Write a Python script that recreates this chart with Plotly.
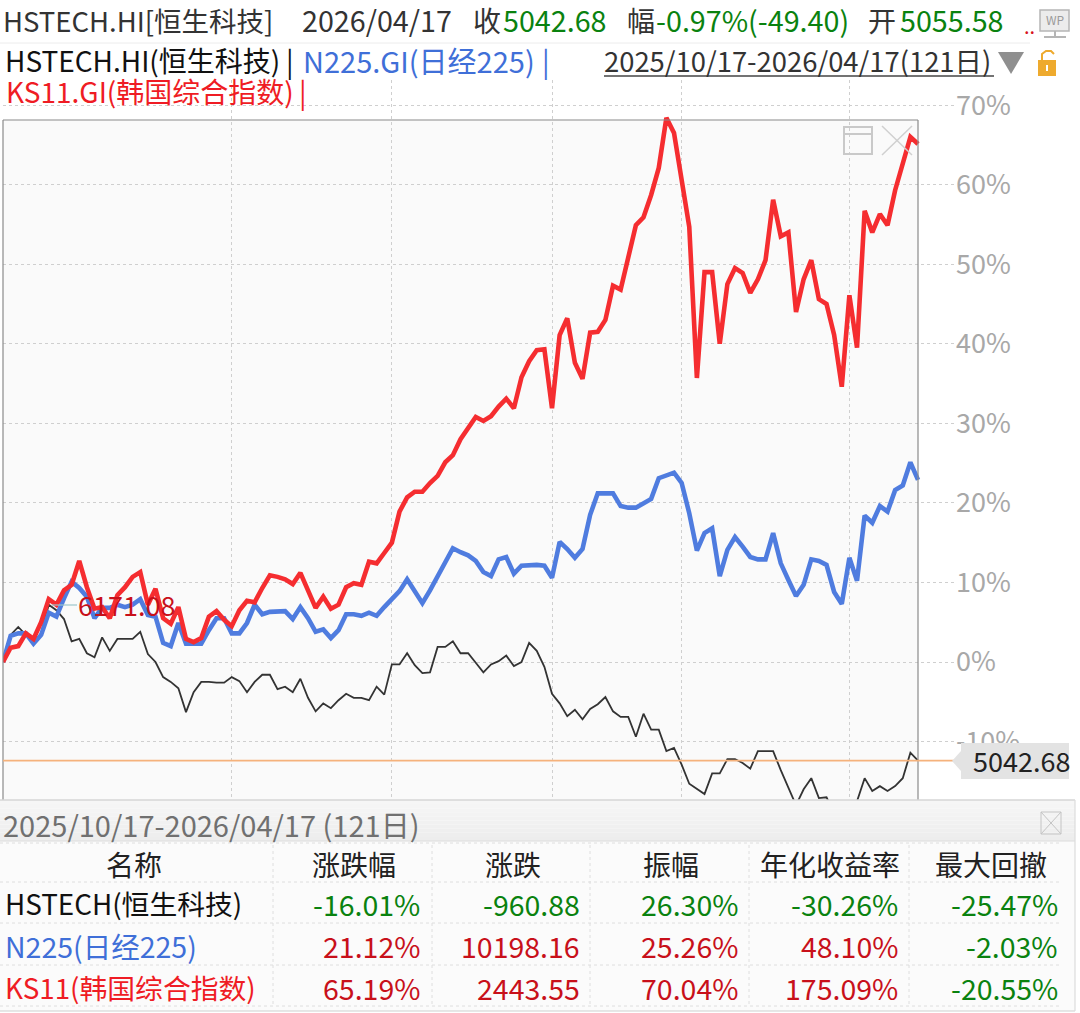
import plotly.graph_objects as go

# ---------- data (cumulative change, %) ----------
HSTECH = [0.0,3.4,4.4,3.4,2.4,3.6,7.2,6.5,5.4,2.6,2.9,1.1,0.6,3.1,1.4,2.9,2.9,2.9,3.8,1.0,
          0.0,-1.9,-2.5,-3.3,-6.3,-3.8,-2.5,-2.5,-2.6,-2.6,-1.9,-2.4,-3.8,-2.5,-1.6,-1.6,-3.4,-3.1,-3.8,-2.1,
          -4.5,-6.2,-5.2,-5.8,-4.8,-4.0,-4.5,-4.5,-4.8,-3.1,-4.1,-0.3,-0.3,1.1,-0.4,-1.4,-1.3,1.9,1.9,2.6,
          1.1,1.1,-0.1,-1.3,-0.3,0.1,0.8,-0.5,0.0,2.4,1.4,-0.6,-4.0,-5.2,-6.8,-6.0,-7.2,-5.9,-5.3,-4.4,
          -6.2,-6.9,-6.9,-9.4,-6.5,-8.5,-8.5,-11.2,-10.8,-12.9,-15.3,-16.0,-16.6,-14.0,-14.0,-12.2,-12.2,-12.7,-13.4,-11.2,
          -11.2,-11.2,-13.6,-15.7,-18.0,-16.0,-14.6,-17.1,-17.0,-19.0,-21.0,-19.5,-17.5,-14.6,-16.2,-15.6,-16.2,-15.6,-14.6,-11.4,
          -12.4]
N225 = [0.0,3.3,3.6,3.6,2.3,3.4,6.2,5.7,8.0,10.1,9.3,8.2,5.5,6.8,6.8,7.2,6.9,7.2,7.9,5.9,
        5.7,2.4,2.0,4.9,2.3,2.3,2.3,4.0,5.5,5.5,3.6,3.6,4.9,7.2,6.0,6.3,6.4,6.4,5.4,6.9,
        5.5,3.8,4.1,3.0,4.0,6.0,6.0,5.8,6.2,5.8,6.9,8.0,8.9,10.4,8.8,7.4,9.0,10.7,12.4,14.3,
        13.8,13.4,12.7,11.3,10.8,12.9,13.2,11.1,12.1,12.2,12.2,12.1,10.6,15.1,14.2,13.1,14.2,18.5,21.2,21.2,
        21.2,19.6,19.4,19.4,20.0,20.5,23.1,23.4,23.8,22.5,18.7,14.0,16.2,16.8,10.8,14.1,15.7,14.5,13.2,12.9,
        12.9,16.2,12.4,10.3,8.3,9.7,12.9,12.7,12.2,8.8,7.3,13.1,10.2,18.4,17.5,19.6,18.9,21.6,22.2,25.1,
        22.9]
KS11 = [0.0,1.8,2.0,3.6,2.9,5.0,7.9,7.2,9.0,9.7,12.7,9.4,6.7,6.9,5.5,8.4,9.4,10.7,11.3,7.2,
        9.2,5.5,4.8,6.9,2.9,2.5,3.0,5.7,6.4,5.3,4.5,6.5,7.7,7.5,9.3,10.9,10.7,10.4,9.8,11.2,
        9.0,6.8,8.2,6.7,7.2,9.4,9.9,9.7,12.6,12.4,13.7,15.0,18.9,20.7,21.4,21.4,22.5,23.4,25.1,26.0,
        28.0,29.3,30.8,30.3,30.9,32.1,33.1,31.9,35.8,37.8,39.2,39.3,31.9,41.1,43.2,37.6,35.6,41.4,41.5,43.0,
        47.3,46.8,50.9,54.9,55.9,58.7,62.1,68.4,66.5,61.0,54.7,35.7,49.0,49.0,40.0,47.5,49.5,48.9,46.4,48.1,
        50.5,58.1,53.5,54.0,44.0,48.1,50.5,45.6,45.0,41.1,34.6,46.1,39.5,56.7,54.0,56.3,54.9,59.3,62.5,66.0,
        65.1]
DAYS = list(range(len(KS11)))
Y_TICKS = [-10, 0, 10, 20, 30, 40, 50, 60, 70]
Y_LABELS = ["-10%", "0%", "10%", "20%", "30%", "40%", "50%", "60%", "70%"]
X_GRID_DAYS = [30, 51, 72, 89, 111]
LAST_CLOSE_LEVEL = -12.4
LAST_CLOSE_TEXT = "5042.68"
HIGH_DAY, HIGH_LEVEL, HIGH_TEXT = 6, 7.2, "6171.08"

TABLE_HEADER = ["名称", "涨跌幅", "涨跌", "振幅", "年化收益率", "最大回撤"]
TABLE_NAMES = ["HSTECH(恒生科技)", "N225(日经225)", "KS11(韩国综合指数)"]
TABLE_ROWS = [
    ["-16.01%", "-960.88", "26.30%", "-30.26%", "-25.47%"],
    ["21.12%", "10198.16", "25.26%", "48.10%", "-2.03%"],
    ["65.19%", "2443.55", "70.04%", "175.09%", "-20.55%"],
]

# ---------- style ----------
W, H = 1080, 1013
FONT = "Noto Sans CJK SC"
RED, BLUE, BLACK, GREEN = "#f52d30", "#4f7cdf", "#333333", "#0a820f"
DRED = "#c8101a"
TXT = "#333333"
def px(x): return x / W
def py(y): return 1 - y / H

fig = go.Figure()
fig.add_trace(go.Scatter(x=DAYS, y=HSTECH, mode="lines", line=dict(color=BLACK, width=1.8), hoverinfo="skip"))
fig.add_trace(go.Scatter(x=DAYS, y=N225, mode="lines", line=dict(color=BLUE, width=4.6), hoverinfo="skip"))
fig.add_trace(go.Scatter(x=DAYS, y=KS11, mode="lines", line=dict(color=RED, width=4.6), hoverinfo="skip"))

shapes = []
def rect(x0, y0, x1, y1, fill=None, line=None, lw=1, layer="above"):
    shapes.append(dict(type="rect", xref="paper", yref="paper", x0=px(x0), x1=px(x1), y0=py(y0), y1=py(y1),
                       fillcolor=fill or "rgba(0,0,0,0)", line=dict(color=line or "rgba(0,0,0,0)", width=lw if line else 0), layer=layer))
def seg(x0, y0, x1, y1, color, lw=1, dash=None, layer="above"):
    shapes.append(dict(type="line", xref="paper", yref="paper", x0=px(x0), x1=px(x1), y0=py(y0), y1=py(y1),
                       line=dict(color=color, width=lw, dash=dash or "solid"), layer=layer))
def poly(points, fill, layer="above"):
    d = "M " + " L ".join(f"{px(a)},{py(b)}" for a, b in points) + " Z"
    shapes.append(dict(type="path", xref="paper", yref="paper", path=d, fillcolor=fill, line=dict(width=0), layer=layer))

# plot background and frame
rect(3, 120, 918, 800, fill="#fafafa", layer="below")
seg(3, 120, 918, 120, "#8a8a8a", 1.2)
seg(3, 120, 3, 800, "#8a8a8a", 1.2)
seg(918, 120, 918, 800, "#8a8a8a", 1.2)
# header separator
seg(0, 43, 1030, 43, "#ececec", 1)
# window / close icons
rect(844, 127, 872, 154, line="#c9c9c9", lw=2)
seg(844, 134, 872, 134, "#c9c9c9", 2)
seg(882, 155, 912, 126, "#d0d0d0", 1.5)
seg(882, 126, 912, 155, "#d0d0d0", 1.5)
# last close line + price tag
shapes.append(dict(type="line", xref="x", yref="y", x0=DAYS[0], x1=124.85, y0=LAST_CLOSE_LEVEL, y1=LAST_CLOSE_LEVEL,
                   line=dict(color="#f5b27c", width=1.6), layer="above"))
rect(961, 743, 1069, 779, fill="#e3e3e3")
poly([(952, 761), (961, 751), (961, 771)], "#e3e3e3")
# high-point leader
seg(52, 605, 77, 605, "#9cc6cc", 1.2)
# header icons
poly([(998, 52), (1024, 52), (1011, 74)], "#8f8f8f")
seg(604, 76, 994, 76, "#444444", 1.5)
rect(1038, 60, 1056, 76, fill="#eeaa2e")
shapes.append(dict(type="path", xref="paper", yref="paper",
                   path=f"M {px(1042)},{py(60)} L {px(1042)},{py(54)} L {px(1046)},{py(51)} L {px(1051)},{py(51)} L {px(1054)},{py(54)}",
                   line=dict(color="#eeaa2e", width=2), layer="above"))
rect(1046, 65, 1048, 71, fill="#ffffff")
rect(1040, 10, 1069, 31, fill="#ececec", line="#b5b5b5", lw=1.5)
seg(1055, 31, 1055, 36, "#b5b5b5", 2)
seg(1044, 37, 1066, 37, "#b5b5b5", 2)

# lower panel
rect(0, 800, W, H, fill="#ffffff")
rect(0, 841, 1075, 1011, fill="#fbfbfb")
for k in range(10):
    v = 246 - k * 1
    rect(0, 800 + k * 4.1, 1075, 800 + (k + 1) * 4.1, fill=f"rgb({v},{v},{v})")
seg(0, 800, 1075, 800, "#d6d6d6", 1.5)
seg(0, 841, 1075, 841, "#dcdcdc", 1)
seg(0, 1011, 1075, 1011, "#cfcfcf", 1.2)
seg(1075, 800, 1075, 1011, "#dcdcdc", 1.2)
rect(1041, 812, 1061, 834, line="#c4c4c4", lw=1)
seg(1041, 812, 1061, 834, "#c4c4c4", 1)
seg(1061, 812, 1041, 834, "#c4c4c4", 1)
for y in [843, 882, 923, 965, 1006]:
    seg(0, y, 1060, y, "#dedede", 1, "dot")
for x in [273, 432, 590, 749, 909]:
    seg(x, 845, x, 1006, "#dedede", 1, "dot")

ann = []
def text(x, y, s, color=TXT, size=28, anchor="left"):
    ann.append(dict(xref="paper", yref="paper", x=px(x), y=py(y - 1.5), text=s, showarrow=False, xanchor=anchor,
                    yanchor="middle", align=anchor, font=dict(family=FONT, size=size, color=color), borderpad=0, borderwidth=0))

# top rows
NUM = 28.7
text(3, 21, "HSTECH.HI[恒生科技]", TXT, 27.5)
text(302, 21, "2026/04/17", TXT, NUM)
text(473, 21, "收")
text(503, 21, "5042.68", GREEN, NUM)
text(627, 21, "幅")
text(656, 21, "-0.97%(-49.40)", GREEN, NUM)
text(868, 21, "开")
text(900, 21, "5055.58", GREEN, NUM)
text(1024, 27, "..", "#d8141c", 20)
text(1055, 21.5, "WP", "#9a9a9a", 12, "center")
text(5, 62, "HSTECH.HI(恒生科技)", "#111111")
text(286, 62, "|", "#111111")
text(303, 62, "N225.GI(日经225)", "#3f6fd8", 29)
text(542, 62, "|", "#3f6fd8")
text(604, 62, "2025/10/17-2026/04/17(121日)", TXT, 27.4)
text(6, 93, "KS11.GI(韩国综合指数)", "#ef1c24")
text(299, 93, "|", "#ef1c24")

# chart labels
text(78, 606, HIGH_TEXT, DRED, 27)
text(1021, 762, LAST_CLOSE_TEXT, "#222222", 27, "center")

# panel text
text(3, 825, "2025/10/17-2026/04/17 (121日)", "#707070", 29)
HEAD_X = [134, 354, 513, 671, 830, 991]
for x, s in zip(HEAD_X, TABLE_HEADER):
    text(x, 865.5, s, "#222222", 28, "center")
ROW_Y = [904.5, 946.5, 988.5]
NAME_COLORS = ["#111111", "#3f6fd8", "#ef1c24"]
NAME_SIZES = [27.8, 28.5, 27.8]
COL_RIGHT = [420, 580, 738, 898, 1058]
for y, name, c, ns, row in zip(ROW_Y, TABLE_NAMES, NAME_COLORS, NAME_SIZES, TABLE_ROWS):
    text(5, y, name, c, ns)
    for x, v in zip(COL_RIGHT, row):
        neg = v.startswith("-")
        col = GREEN if neg else DRED
        text(x, y, v, col, 28.5, "right")
# amplitude column for the first row is shown in green in the source
ann[[a["text"] for a in ann].index("26.30%")]["font"]["color"] = GREEN

fig.update_layout(
    width=W, height=H, autosize=False, showlegend=False,
    margin=dict(l=0, r=0, t=0, b=0, pad=0),
    paper_bgcolor="#ffffff", plot_bgcolor="rgba(0,0,0,0)",
    xaxis=dict(domain=[px(3), px(955)], range=[0, 124.85], tickvals=X_GRID_DAYS, showticklabels=False, ticks="",
               showgrid=True, gridcolor="#cfcfcf", griddash="dot", gridwidth=1, zeroline=False, showline=False, fixedrange=True),
    yaxis=dict(domain=[py(800), py(80)], range=[-17.345, 73.15], side="right", tickvals=Y_TICKS, ticktext=Y_LABELS, ticks="",
               tickfont=dict(family=FONT, size=27, color="#a8a8a8"),
               showgrid=True, gridcolor="#cfcfcf", griddash="dot", gridwidth=1, zeroline=False, showline=False, fixedrange=True),
    shapes=shapes, annotations=ann,
)
fig.write_html("out.html", config=dict(displayModeBar=False),
               post_script="document.body.style.margin='0';document.body.style.overflow='hidden';")
